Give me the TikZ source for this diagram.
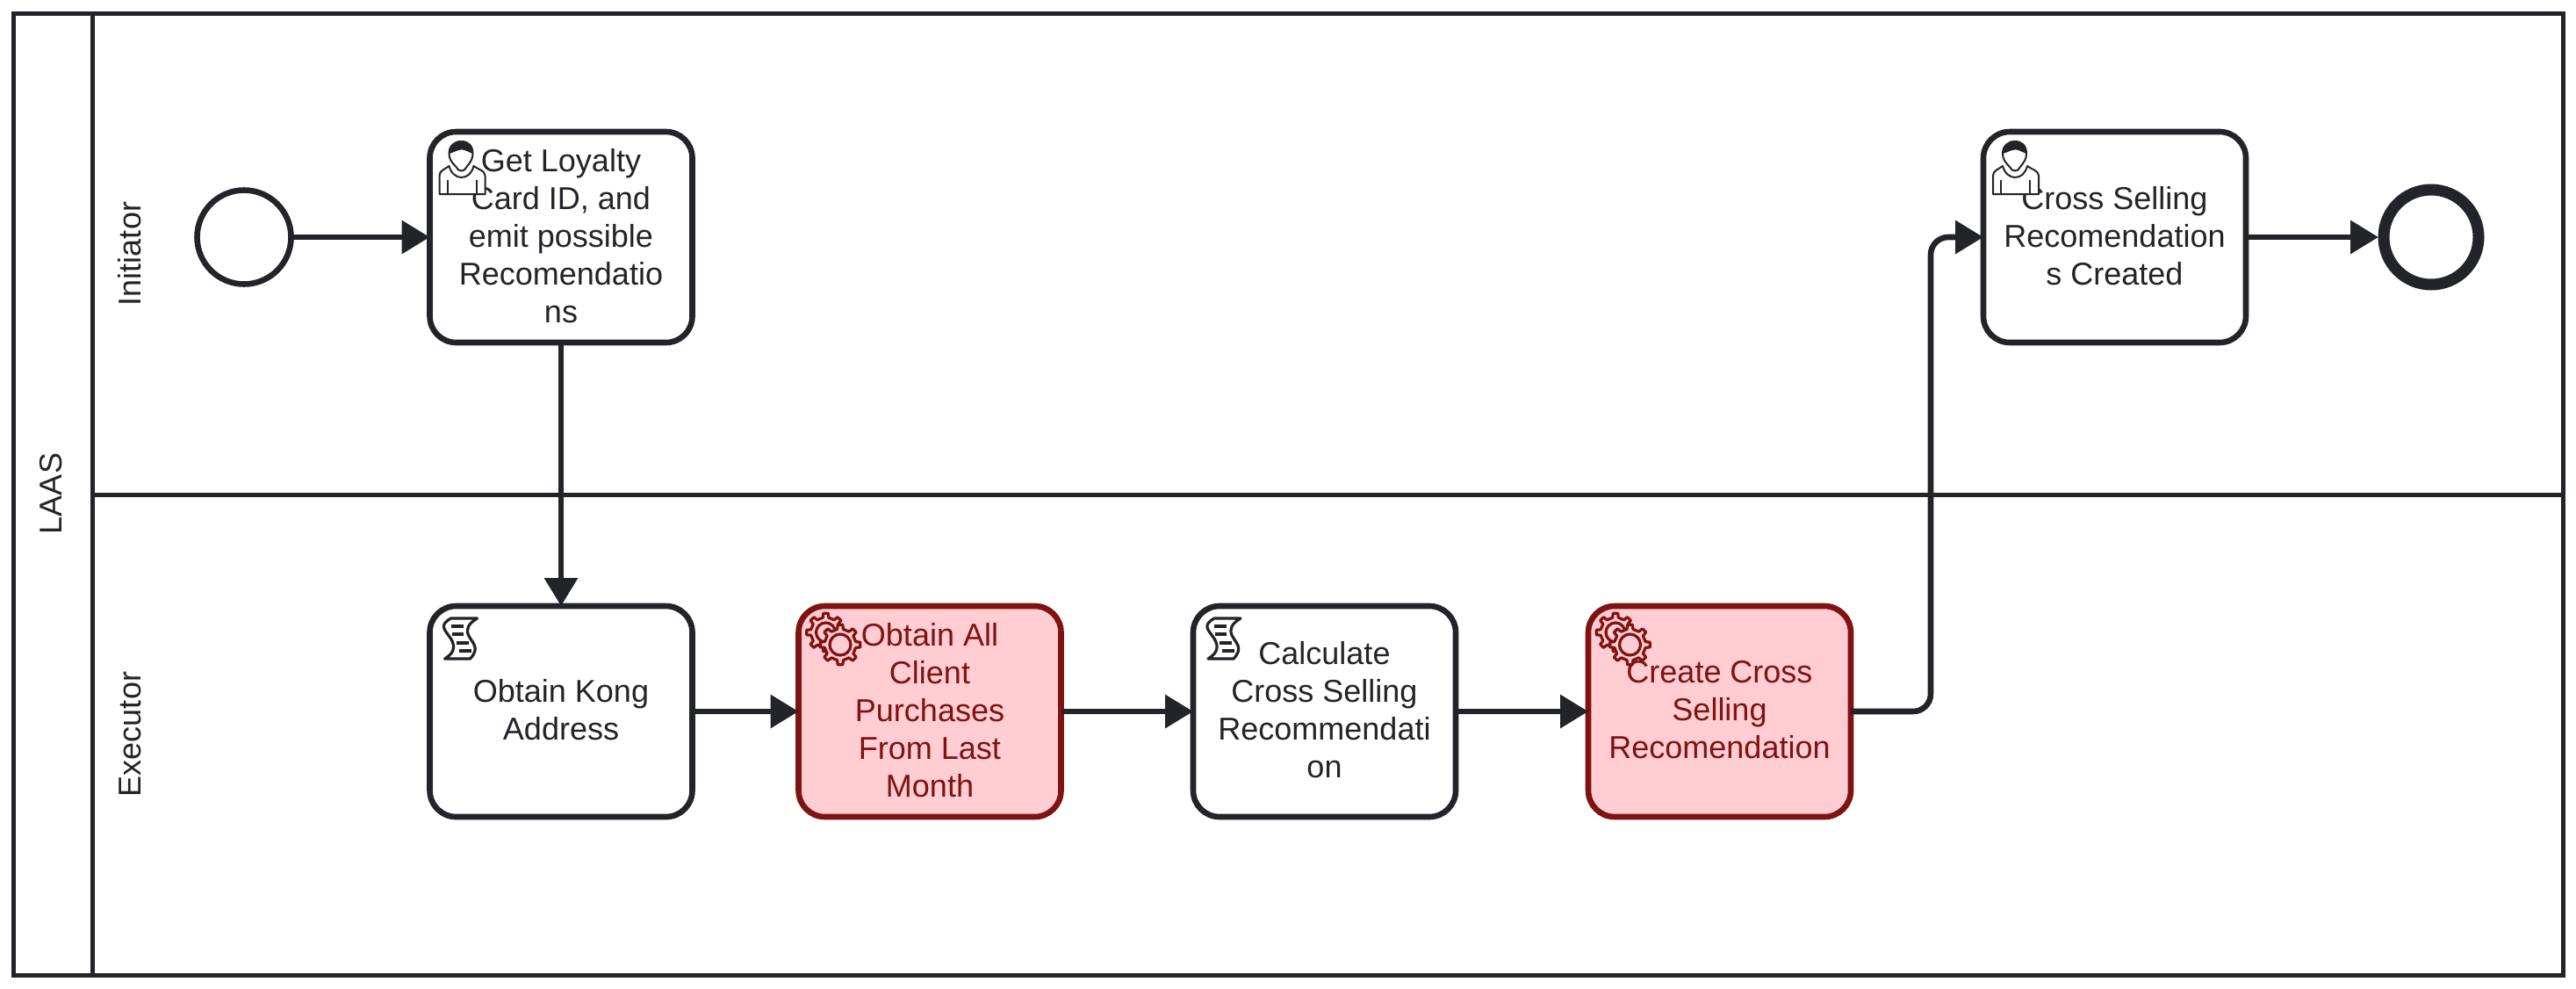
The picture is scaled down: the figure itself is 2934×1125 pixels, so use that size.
\documentclass[tikz,border=0pt]{standalone}
\usepackage{fontspec}
\setmainfont{Liberation Sans}
\usetikzlibrary{arrows.meta}
\definecolor{ink}{HTML}{22242A}
\definecolor{redink}{HTML}{7F1212}
\definecolor{redfill}{HTML}{FFCDD2}
\tikzset{
  x=0.5pt,y=-0.5pt,
  lanetext/.style={font=\fontsize{18}{21.5}\selectfont,text=ink,rotate=90,inner sep=0pt},
  lanerule/.style={draw=ink,line width=2.5pt},
  taskbox/.style={draw=ink,fill=white,line width=3.3pt,rounded corners=15pt,rectangle,
    minimum width=149.5pt,minimum height=120pt,inner sep=0pt,outer sep=0pt,align=center,
    text=ink,font=\fontsize{18}{21.5}\selectfont,text depth=2pt},
  redtask/.style={taskbox,draw=redink,fill=redfill,text=redink},
  startev/.style={circle,draw=ink,line width=3.3pt,minimum size=53.5pt,inner sep=0pt,outer sep=0pt},
  endev/.style={circle,draw=ink,fill=white,line width=6.5pt,minimum size=54pt,inner sep=0pt,outer sep=3pt},
  flow/.style={draw=ink,line width=3.3pt,-{Triangle[length=16pt,width=18.5pt]}},
  gearshape/.pic={
    \draw[redink,line width=1.6pt,fill=redfill,line join=round]
      (-11:#1*0.78)
      \foreach \a in {0,45,...,315} { -- (\a-7:#1) -- (\a+7:#1) -- (\a+11:#1*0.78) -- (\a+34:#1*0.78) } -- cycle;
  },
  usericon/.pic={
    \draw[ink,line width=1pt,fill=white,line join=round]
      (11,71) -- (11,50) .. controls (11,44) and (17,43) .. (22,39)
      .. controls (24,47) and (30,52) .. (36,52)
      .. controls (43,52) and (48,47) .. (50,39)
      .. controls (55,43) and (63,44) .. (63,50) -- (63,71) -- cycle;
    \draw[ink,line width=1pt] (20,55) -- (20,71) (53,55) -- (53,71);
    \draw[ink,line width=1pt,fill=white]
      (30,40) .. controls (24,34) and (22,30) .. (22,25)
      .. controls (22,16) and (28,11) .. (36,11)
      .. controls (44,11) and (49,16) .. (49,25)
      .. controls (49,30) and (47,34) .. (42,40)
      .. controls (40,46) and (32,46) .. (30,40) -- cycle;
    \fill[ink] (22,25) .. controls (22,16) and (28,11) .. (36,11)
      .. controls (44,11) and (49,16) .. (49,25)
      .. controls (42,22) and (38,19) .. (33,21)
      .. controls (29,22) and (26,24) .. (22,25) -- cycle;
  },
  scripticon/.pic={
    \draw[ink,line width=1.6pt,fill=white,line join=round]
      (24,14) -- (54,14) .. controls (44,20) and (41,26) .. (44,33)
      .. controls (48,42) and (58,47) .. (46,60) -- (17,60)
      .. controls (27,54) and (30,47) .. (24,37)
      .. controls (17,27) and (10,22) .. (24,14) -- cycle;
    \draw[ink,line width=1.6pt] (24,23) -- (38,23) (25,32) -- (38,32) (30,42) -- (44,42) (33,51) -- (47,51);
  },
  gearicon/.pic={
    \pic at (31,30) {gearshape=22};
    \draw[redink,line width=1.6pt] (31,30) circle[radius=11];
    \pic at (47.5,44) {gearshape=23};
    \draw[redink,line width=1.6pt] (47.5,44) circle[radius=12];
  }
}
\begin{document}
\begin{tikzpicture}
\useasboundingbox (0,0) rectangle (2934,1125);
% pool and lanes
\coordinate (poolNW) at (15,15);
\coordinate (poolSE) at (2919,1110);
\coordinate (headT) at (105,15);
\coordinate (headB) at (105,1110);
\coordinate (divL) at (105,563);
\coordinate (divR) at (2919,563);
\draw[lanerule] (poolNW) rectangle (poolSE);
\draw[lanerule] (headT) -- (headB);
\draw[lanerule] (divL) -- (divR);
\node[lanetext] (laas) at (58,562) {LAAS};
\node[lanetext] (initiator) at (148,289) {Initiator};
\node[lanetext] (executor) at (148,836) {Executor};
% events
\node[startev] (start) at (278,270) {};
\node[endev] (finish) at (2769,270) {};
% tasks
\node[taskbox] (t1) at (639,270) {Get Loyalty\\Card ID, and\\emit possible\\Recomendatio\\ns};
\node[taskbox] (t2) at (639,810) {Obtain Kong\\Address};
\node[redtask] (t3) at (1059,810) {Obtain All\\Client\\Purchases\\From Last\\Month};
\node[taskbox] (t4) at (1508.5,810) {Calculate\\Cross Selling\\Recommendati\\on};
\node[redtask] (t5) at (1958.5,810) {Create Cross\\Selling\\Recomendation};
\node[taskbox] (t6) at (2408.5,270) {Cross Selling\\Recomendation\\s Created};
% icons
\pic at (t1.north west) {usericon};
\pic at (t6.north west) {usericon};
\pic at (t2.north west) {scripticon};
\pic at (t4.north west) {scripticon};
\pic at (t3.north west) {gearicon};
\pic at (t5.north west) {gearicon};
% flows
\coordinate (j1) at (2199,810);
\coordinate (j2) at (2199,270);
\draw[flow] (start) -- (t1);
\draw[flow] (t1) -- (t2);
\draw[flow] (t2) -- (t3);
\draw[flow] (t3) -- (t4);
\draw[flow] (t4) -- (t5);
\draw[flow,rounded corners=10pt] (t5.east) -- (j1) -- (j2) -- (t6.west);
\draw[flow] (t6) -- (finish);
\end{tikzpicture}
\end{document}
